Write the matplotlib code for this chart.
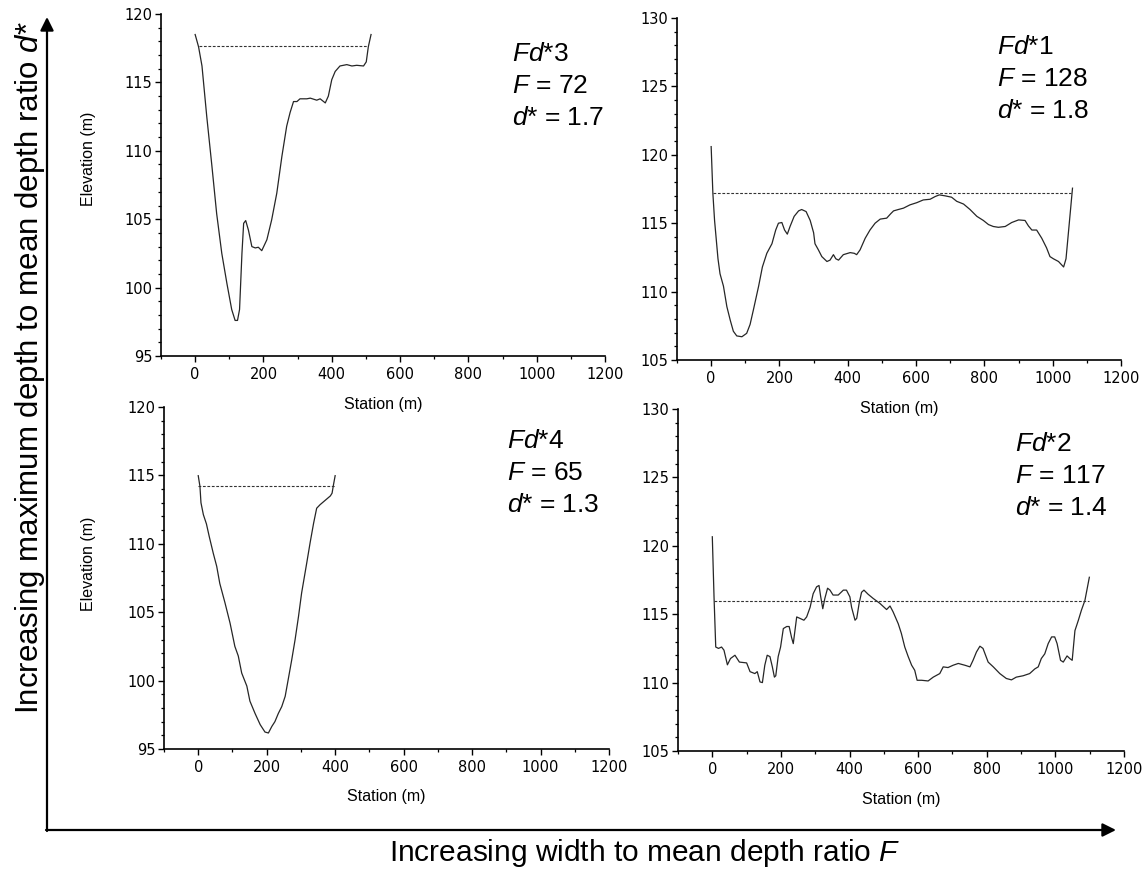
import numpy as np
import matplotlib
matplotlib.use('Agg')
import matplotlib.pyplot as plt
import matplotlib.font_manager as fm
from matplotlib.patches import FancyArrowPatch
from matplotlib.ticker import MultipleLocator

plt.rcParams['font.family'] = ['Liberation Sans', 'DejaVu Sans']
plt.rcParams['mathtext.fontset'] = 'custom'
plt.rcParams['mathtext.rm'] = 'Liberation Sans'
plt.rcParams['mathtext.it'] = 'Liberation Sans:italic'

# narrow font for the rotated axis titles if it is there
installed = {f.name for f in fm.fontManager.ttflist}
narrow = 'Liberation Sans Narrow' if 'Liberation Sans Narrow' in installed else 'Liberation Sans'

# ------------------------------------------------------------
# Cross-section profiles (station m, elevation m)
# ------------------------------------------------------------
# Fd*3 (top left)
fd3_station = [0, 10, 20, 34, 49, 63, 78, 93, 107, 117, 124, 130, 137, 142, 148, 156,
               166, 176, 185, 195, 210, 224, 239, 254, 268, 278, 288, 298, 307, 327,
               337, 356, 366, 381, 390, 400, 410, 424, 444, 459, 473, 493, 501, 507, 515]
fd3_elev = [118.5, 117.6, 116.2, 112.5, 108.9, 105.4, 102.5, 100.3, 98.4, 97.6, 97.6, 98.4,
            102.5, 104.7, 104.9, 104.2, 103.0, 102.9, 102.95, 102.7, 103.5, 104.95, 106.9,
            109.6, 111.8, 112.8, 113.6, 113.6, 113.8, 113.8, 113.85, 113.7, 113.8, 113.5,
            114.0, 115.2, 115.8, 116.2, 116.3, 116.2, 116.25, 116.2, 116.5, 117.6, 118.5]
fd3_water = (10, 507, 117.63)

# Fd*1 (top right)
fd1_station = [0, 5, 10, 20, 26, 36, 46, 56, 65, 75, 90, 104, 114, 124, 139, 150, 163,
               178, 189, 197, 207, 215, 223, 231, 243, 256, 265, 278, 290, 300, 304, 314,
               324, 339, 348, 358, 365, 373, 387, 407, 419, 426, 436, 451, 465, 480, 495,
               514, 526, 534, 548, 563, 582, 602, 621, 641, 656, 668, 685, 704, 719, 739,
               758, 778, 797, 812, 826, 841, 861, 880, 900, 919, 929, 939, 953, 968, 982,
               992, 1002, 1017, 1032, 1039, 1046, 1053, 1058]
fd1_elev = [120.6, 117.2, 115.2, 112.4, 111.3, 110.4, 108.9, 107.9, 107.1, 106.76, 106.7,
            106.95, 107.6, 108.7, 110.4, 111.8, 112.8, 113.5, 114.5, 115.0, 115.05, 114.5,
            114.2, 114.76, 115.5, 115.9, 116.0, 115.85, 115.2, 114.3, 113.5, 113.05, 112.56,
            112.2, 112.3, 112.7, 112.4, 112.3, 112.7, 112.85, 112.8, 112.7, 113.05, 113.9,
            114.5, 115.0, 115.3, 115.37, 115.7, 115.9, 116.0, 116.1, 116.34, 116.5, 116.7,
            116.75, 116.95, 117.07, 117.0, 116.9, 116.6, 116.4, 116.0, 115.5, 115.2, 114.9,
            114.76, 114.7, 114.76, 115.05, 115.24, 115.2, 114.8, 114.5, 114.5, 113.9, 113.2,
            112.56, 112.4, 112.2, 111.8, 112.4, 114.3, 116.2, 117.56]
fd1_water = (5, 1055, 117.2)

# Fd*4 (bottom left)
fd4_station = [0, 5, 8, 15, 24, 32, 44, 54, 63, 78, 93, 107, 117, 127, 142, 151, 166,
               181, 195, 205, 215, 224, 234, 244, 254, 263, 273, 283, 293, 302, 317, 327,
               337, 346, 356, 371, 386, 391, 395, 400]
fd4_elev = [114.98, 114.2, 113.0, 112.13, 111.45, 110.55, 109.3, 108.35, 107.1, 105.7,
            104.2, 102.5, 101.8, 100.55, 99.6, 98.5, 97.6, 96.78, 96.24, 96.17, 96.65, 97.0,
            97.6, 98.1, 98.85, 100.1, 101.5, 103.0, 104.7, 106.4, 108.6, 110.1, 111.5,
            112.6, 112.86, 113.18, 113.5, 113.7, 114.3, 114.98]
fd4_water = (0, 400, 114.25)

# Fd*2 (bottom right)
fd2_station = [0, 5, 10, 18, 27, 34, 44, 53, 66, 79, 100, 110, 124, 131, 139, 146, 153,
               160, 168, 175, 181, 185, 192, 199, 207, 217, 224, 231, 236, 246, 255, 267,
               275, 285, 294, 304, 311, 316, 322, 328, 336, 343, 352, 367, 382, 391, 401,
               406, 416, 421, 428, 435, 442, 454, 469, 488, 508, 518, 527, 542, 551, 561,
               571, 581, 590, 597, 610, 629, 644, 663, 673, 687, 702, 717, 736, 751, 760,
               770, 780, 789, 804, 819, 838, 857, 872, 886, 906, 925, 940, 950, 959, 969,
               979, 989, 998, 1005, 1015, 1023, 1034, 1042, 1049, 1057, 1067, 1076, 1086, 1099]
fd2_elev = [120.66, 116.27, 112.6, 112.5, 112.6, 112.37, 111.3, 111.76, 112.0, 111.5,
            111.44, 110.8, 110.66, 110.8, 110.05, 110.0, 111.27, 112.0, 111.9, 111.15,
            110.4, 110.5, 111.9, 112.6, 113.95, 114.1, 114.1, 113.3, 112.85, 114.8, 114.7,
            114.56, 114.8, 115.5, 116.5, 117.0, 117.1, 116.27, 115.4, 116.15, 116.9, 116.76,
            116.4, 116.4, 116.76, 116.76, 116.27, 115.5, 114.56, 114.7, 115.8, 116.6, 116.76,
            116.46, 116.15, 115.8, 115.34, 115.6, 115.17, 114.3, 113.6, 112.6, 111.9, 111.27,
            110.9, 110.17, 110.17, 110.12, 110.4, 110.66, 111.15, 111.1, 111.27, 111.4,
            111.27, 111.15, 111.63, 112.24, 112.66, 112.5, 111.5, 111.15, 110.66, 110.3,
            110.2, 110.4, 110.5, 110.66, 111.0, 111.15, 111.76, 112.1, 112.85, 113.34,
            113.34, 112.85, 111.63, 111.5, 111.95, 111.76, 111.63, 113.8, 114.56, 115.3,
            116.0, 117.7]
fd2_water = (5, 1098, 115.98)

panel_names = ['Fd*3', 'Fd*1', 'Fd*4', 'Fd*2']
panel_F = [72, 128, 65, 117]
panel_dstar = [1.7, 1.8, 1.3, 1.4]

W, H = 1145, 871
fig = plt.figure(figsize=(W / 100, H / 100), dpi=100)


def px_axes(left, top, width, height):
    return fig.add_axes([left / W, 1 - (top + height) / H, width / W, height / H])


panels = [
    # (axes rect in px, station, elev, water, ylim, text x px, first baseline px)
    ((161, 14, 444, 342), fd3_station, fd3_elev, fd3_water, (95, 120), 512, 61),
    ((677, 18, 444, 342), fd1_station, fd1_elev, fd1_water, (105, 130), 997, 54),
    ((164, 407, 445, 342), fd4_station, fd4_elev, fd4_water, (95, 120), 507, 448),
    ((678, 409, 446, 342), fd2_station, fd2_elev, fd2_water, (105, 130), 1015, 451),
]

for i, (rect, st, el, wl, ylim, tx, ty) in enumerate(panels):
    ax = px_axes(*rect)
    ax.patch.set_alpha(0)
    ax.plot(st, el, color='#262626', lw=0.9)
    ax.plot([wl[0], wl[1]], [wl[2], wl[2]], color='#333333', lw=0.8,
            linestyle=(0, (2.5, 1.5)))
    ax.set_xlim(-100, 1200)
    ax.set_ylim(*ylim)
    ax.spines['top'].set_visible(False)
    ax.spines['right'].set_visible(False)
    ax.spines['left'].set_linewidth(1.2)
    ax.spines['bottom'].set_linewidth(1.2)
    ax.xaxis.set_major_locator(MultipleLocator(200))
    ax.xaxis.set_minor_locator(MultipleLocator(100))
    ax.yaxis.set_major_locator(MultipleLocator(5))
    ax.yaxis.set_minor_locator(MultipleLocator(1))
    ax.tick_params(which='major', length=4, width=1, labelsize=10.5,
                   labelfontfamily='DejaVu Sans')
    ax.tick_params(which='minor', length=2.3, width=0.9)
    ax.tick_params(axis='y', which='major', pad=2)
    ax.tick_params(axis='x', which='major', pad=4)
    ax.text(0.5, -48 / 342, 'Station (m)', transform=ax.transAxes,
            ha='center', va='center', fontsize=11.5)

    fig.text(tx / W, 1 - ty / H, r'$Fd$*' + panel_names[i][-1], fontsize=19, va='baseline')
    fig.text(tx / W, 1 - (ty + 32) / H, r'$F$ = %d' % panel_F[i], fontsize=19, va='baseline')
    fig.text(tx / W, 1 - (ty + 64) / H, r'$d$* = %.1f' % panel_dstar[i], fontsize=19,
             va='baseline')

# Elevation labels on the left panels only
fig.text(88 / W, 1 - 159 / H, 'Elevation (m)', rotation=90, ha='center', va='center',
         fontsize=11.5, family=[narrow, 'DejaVu Sans'])
fig.text(88 / W, 1 - 564 / H, 'Elevation (m)', rotation=90, ha='center', va='center',
         fontsize=11.5, family=[narrow, 'DejaVu Sans'])

# Big arrows
fig.add_artist(FancyArrowPatch((47 / W, 1 - 831 / H), (47 / W, 1 - 17 / H),
                               transform=fig.transFigure, arrowstyle='-|>',
                               mutation_scale=20, lw=1.6, color='black',
                               shrinkA=0, shrinkB=0))
fig.add_artist(FancyArrowPatch((46 / W, 1 - 830 / H), (1116 / W, 1 - 830 / H),
                               transform=fig.transFigure, arrowstyle='-|>',
                               mutation_scale=20, lw=1.6, color='black',
                               shrinkA=0, shrinkB=0))

fig.text(30 / W, 1 - 368 / H, r'Increasing maximum depth to mean depth ratio $d$*',
         rotation=90, ha='center', va='center', fontsize=22.5)
fig.text(645 / W, 1 - 861 / H, r'Increasing width to mean depth ratio $F$',
         ha='center', va='baseline', fontsize=21.5)

plt.savefig('out.png', dpi=100)
plt.close('all')
